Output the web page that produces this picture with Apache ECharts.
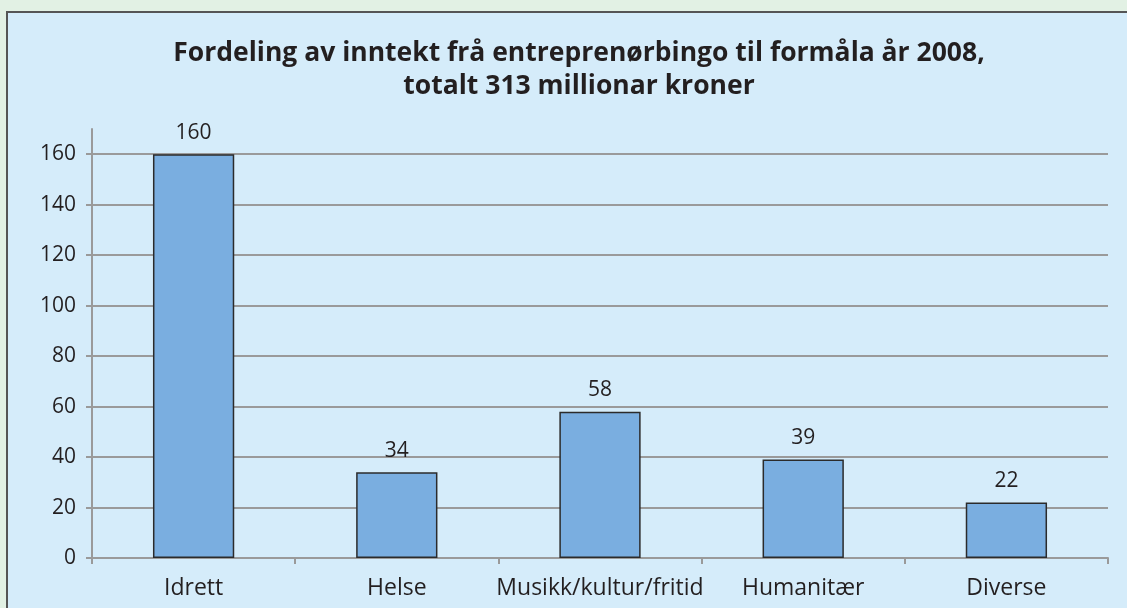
<!DOCTYPE html>
<html>
<head>
<meta charset="utf-8">
<script src="https://cdn.jsdelivr.net/npm/echarts@6/dist/echarts.min.js"></script>
<style>
  html, body { margin:0; padding:0; background:#e2f1e4; }
  #chart { width:1127px; height:608px; }
</style>
</head>
<body>
<div id="chart"></div>
<script>
const categories = ['Idrett', 'Helse', 'Musikk/kultur/fritid', 'Humanitær', 'Diverse']
const values = [160, 34, 58, 39, 22]
const titleLines = ['Fordeling av inntekt frå entreprenørbingo til formåla år 2008,', 'totalt 313 millionar kroner']

const chart = echarts.init(document.getElementById('chart'))
const font = '"Open Sans", "Noto Sans", sans-serif'

chart.setOption({
  backgroundColor: '#e2f1e4',
  animation: false,
  graphic: [
    { type: 'rect', z: -10, shape: { x: 7, y: 12, width: 1130, height: 610 }, style: { fill: '#d5ecfa', stroke: '#555', lineWidth: 2 } },
    { type: 'text', x: 579, y: 37, style: { text: titleLines.join('\n'), font: 'bold 26.5px ' + font, fill: '#231f20', align: 'center', textAlign: 'center', lineHeight: 33 } }
  ],
  grid: { left: 92, right: 19, top: 129, bottom: 50 },
  xAxis: {
    type: 'category',
    data: categories,
    axisLine: { lineStyle: { color: '#9a9a9a', width: 2 } },
    axisTick: { show: true, length: 6, lineStyle: { color: '#9a9a9a', width: 2 } },
    axisLabel: { interval: 0, color: '#231f20', fontSize: 23, fontFamily: font, margin: 19 }
  },
  yAxis: {
    type: 'value',
    min: 0,
    max: 170,
    interval: 20,
    axisLine: { show: true, lineStyle: { color: '#9a9a9a', width: 2 } },
    axisTick: { show: true, length: 6, lineStyle: { color: '#9a9a9a', width: 2 } },
    axisLabel: { color: '#231f20', fontSize: 21, fontFamily: font, margin: 16, showMaxLabel: false },
    splitLine: { show: true, showMaxLine: false, lineStyle: { color: '#9a9a9a', width: 2 } }
  },
  series: [{
    type: 'bar',
    data: values,
    barWidth: '40%',
    itemStyle: { color: '#7aaee0', borderColor: '#2b2b2b', borderWidth: 1.5 },
    label: { show: true, position: 'top', distance: 11, color: '#231f20', fontSize: 21, fontFamily: font }
  }]
})
</script>
</body>
</html>
